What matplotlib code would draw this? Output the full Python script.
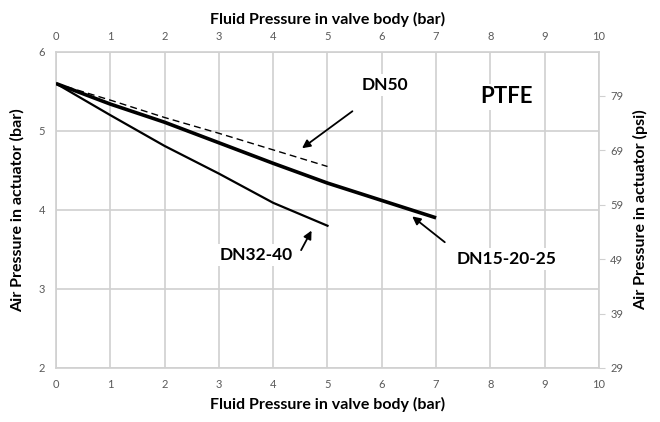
import matplotlib
matplotlib.use("Agg")
import matplotlib.pyplot as plt

plt.rcParams['font.family'] = ['Lato', 'DejaVu Sans']

# Data (bar)
fluid_thick = [0, 1, 2, 3, 4, 5, 6, 7]
air_thick = [5.6, 5.34, 5.11, 4.85, 4.59, 4.34, 4.12, 3.9]      # DN15-20-25
fluid_thin = [0, 1, 2, 3, 4, 5]
air_thin = [5.6, 5.2, 4.81, 4.46, 4.09, 3.8]                    # DN32-40
fluid_dash = [0, 1, 2, 3, 4, 5]
air_dash = [5.6, 5.39, 5.17, 4.97, 4.76, 4.55]                  # DN50

x_ticks = list(range(0, 11))
y_ticks = [2, 3, 4, 5, 6]
psi_ticks = [29, 39, 49, 59, 69, 79]
BAR_TO_PSI = 14.5038

grid_c = '#d0d0d0'
tick_c = '#595959'

fig = plt.figure(figsize=(6.6, 4.22), dpi=100)
ax = fig.add_axes([0.0848, 0.128, 0.8228, 0.749])

ax.plot(fluid_thick, air_thick, color='black', lw=2.6, solid_capstyle='butt', zorder=3)
ax.plot(fluid_thin, air_thin, color='black', lw=1.6, zorder=3)
ax.plot(fluid_dash, air_dash, color='black', lw=1.0, ls=(0, (5, 3)), zorder=3)

ax.set_xlim(0, 10)
ax.set_ylim(2, 6)
ax.set_xticks(x_ticks)
ax.set_yticks(y_ticks)
ax.grid(True, color=grid_c, lw=1.2)
ax.set_axisbelow(True)
for s in ax.spines.values():
    s.set_color(grid_c)
    s.set_linewidth(1.2)
ax.tick_params(length=0, labelsize=8, labelcolor=tick_c, pad=8)
ax.set_xlabel('Fluid Pressure in valve body (bar)', fontsize=11.5, fontweight='bold', labelpad=5)
ax.set_ylabel('Air Pressure in actuator (bar)', fontsize=11.5, fontweight='bold', labelpad=10)

top = ax.twiny()
top.set_xlim(0, 10)
top.set_xticks(x_ticks)
top.tick_params(length=0, labelsize=8, labelcolor=tick_c, pad=7)
top.set_xlabel('Fluid Pressure in valve body (bar)', fontsize=11.5, fontweight='bold', labelpad=5)
for s in top.spines.values():
    s.set_visible(False)

right = ax.twinx()
right.set_ylim(2 * BAR_TO_PSI, 6 * BAR_TO_PSI)
right.set_yticks(psi_ticks)
right.tick_params(length=4, color=grid_c, labelsize=8, labelcolor=tick_c, pad=4)
right.set_ylabel('Air Pressure in actuator (psi)', fontsize=11.5, fontweight='bold', labelpad=7)
for s in right.spines.values():
    s.set_visible(False)

box = dict(facecolor='white', edgecolor='none', pad=2)
arrow = dict(arrowstyle='-|>', color='black', lw=1.3, mutation_scale=12)

ax.text(8.3, 5.43, 'PTFE', fontsize=16, fontweight='bold', ha='center', va='center', bbox=box, zorder=4)
ax.annotate('', xy=(4.49, 4.76), xytext=(5.5, 5.27), arrowprops=arrow, zorder=4)
ax.text(6.05, 5.58, 'DN50', fontsize=12.5, fontweight='bold', ha='center', va='center', bbox=box, zorder=4)
ax.annotate('', xy=(4.73, 3.77), xytext=(4.49, 3.46), arrowprops=arrow, zorder=4)
ax.text(3.68, 3.43, 'DN32-40', fontsize=12.5, fontweight='bold', ha='center', va='center', bbox=box, zorder=4)
ax.annotate('', xy=(6.52, 3.94), xytext=(7.2, 3.57), arrowprops=arrow, zorder=4)
ax.text(8.3, 3.38, 'DN15-20-25', fontsize=12.5, fontweight='bold', ha='center', va='center', bbox=box, zorder=4)

fig.savefig('out.png', dpi=100)
